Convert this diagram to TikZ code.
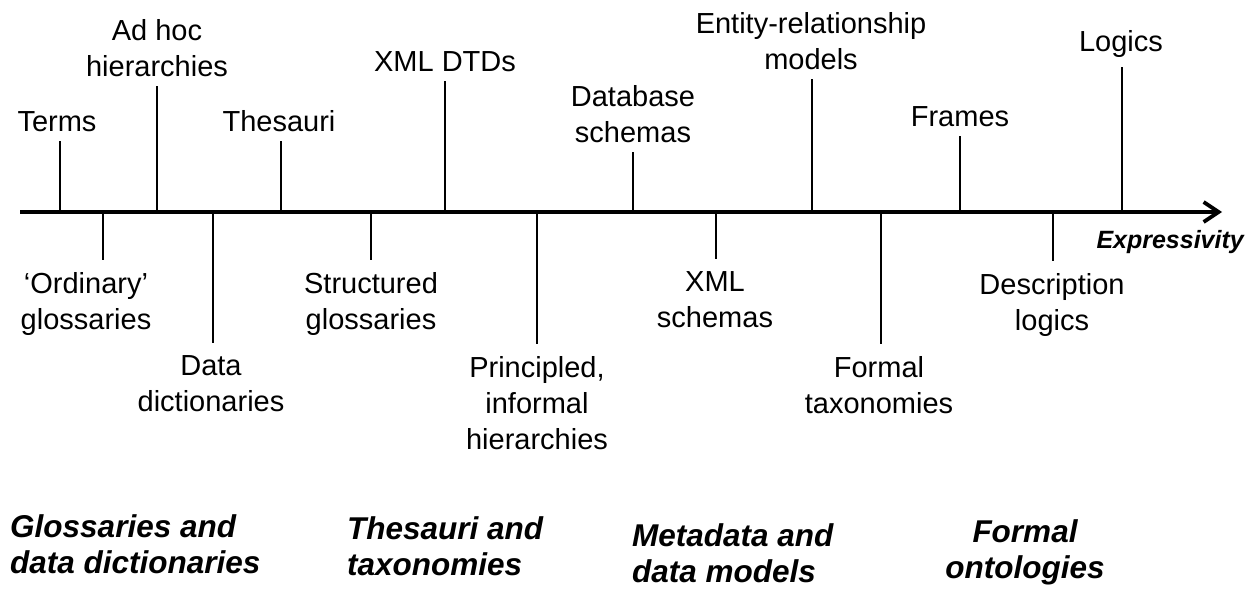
\documentclass[tikz,border=0pt]{standalone}
\usepackage{fontspec}
\setmainfont{Liberation Sans}
\usetikzlibrary{arrows.meta}
\begin{document}
\begin{tikzpicture}[x=1pt,y=-1pt,
  lbl/.style={font=\fontsize{29}{36}\selectfont, align=center, inner sep=0pt},
  up/.style={lbl, anchor=south},
  down/.style={lbl, anchor=north},
  group/.style={font=\fontsize{31.5}{36}\selectfont\bfseries\itshape, inner sep=0pt},
  ticku/.style={line width=1.3pt, shorten >=9pt},
  tickd/.style={line width=1.3pt, shorten >=12pt},
  axisline/.style={line width=4pt, -{Straight Barb[length=15pt,width=20pt,line width=3.8pt]}}
]
\useasboundingbox (0,0) rectangle (1255,589);

% expressivity axis
\coordinate (axL) at (20,212);
\coordinate (axR) at (1222,212);
\draw[axisline] (axL) -- (axR);
\node[font=\fontsize{25}{28}\selectfont\bfseries\itshape, inner sep=0pt, anchor=base east] (expr) at (1244,248) {Expressivity};

% labels above the axis
\node[up] (terms)    at (57,132)  {Terms};
\node[up] (adhoc)    at (157,77)  {Ad hoc\\hierarchies};
\node[up] (thes)     at (279,132) {Thesauri};
\node[up] (xmldtd)   at (445,72)  {XML DTDs};
\node[up] (dbs)      at (633,143) {Database\\schemas};
\node[up] (er)       at (811,70)  {Entity-relationship\\models};
\node[up] (frames)   at (960,127) {Frames};
\node[up] (logics)   at (1121,58) {Logics};

% labels below the axis
\node[down] (ordin)  at (86,272)  {‘Ordinary’\\glossaries};
\node[down] (ddict)  at (211,355) {Data\\dictionaries};
\node[down] (sgloss) at (371,272) {Structured\\glossaries};
\node[down] (princ)  at (537,356) {Principled,\\informal\\hierarchies};
\node[down] (xmls)   at (715,271) {XML\\schemas};
\node[down] (ftax)   at (879,356) {Formal\\taxonomies};
\node[down] (dlog)   at (1052,273) {Description\\logics};

% tick positions on the axis
\coordinate (a1) at (60,212);
\coordinate (a2) at (157,212);
\coordinate (a3) at (281,212);
\coordinate (a4) at (445,212);
\coordinate (a5) at (633,212);
\coordinate (a6) at (812,212);
\coordinate (a7) at (960,212);
\coordinate (a8) at (1122,212);
\coordinate (b1) at (103,212);
\coordinate (b2) at (213,212);
\coordinate (b3) at (371,212);
\coordinate (b4) at (537,212);
\coordinate (b5) at (716,212);
\coordinate (b6) at (881,212);
\coordinate (b7) at (1053,212);

\draw[ticku] (a1) -- (a1 |- terms.south);
\draw[ticku] (a2) -- (a2 |- adhoc.south);
\draw[ticku] (a3) -- (a3 |- thes.south);
\draw[ticku] (a4) -- (a4 |- xmldtd.south);
\draw[ticku] (a5) -- (a5 |- dbs.south);
\draw[ticku] (a6) -- (a6 |- er.south);
\draw[ticku] (a7) -- (a7 |- frames.south);
\draw[ticku] (a8) -- (a8 |- logics.south);

\draw[tickd] (b1) -- (b1 |- ordin.north);
\draw[tickd] (b2) -- (b2 |- ddict.north);
\draw[tickd] (b3) -- (b3 |- sgloss.north);
\draw[tickd] (b4) -- (b4 |- princ.north);
\draw[tickd] (b5) -- (b5 |- xmls.north);
\draw[tickd] (b6) -- (b6 |- ftax.north);
\draw[tickd] (b7) -- (b7 |- dlog.north);

% families of representations
\node[group, anchor=north west, align=left] (g1) at (10,514)  {Glossaries and\\data dictionaries};
\node[group, anchor=north west, align=left] (g2) at (347,516) {Thesauri and\\taxonomies};
\node[group, anchor=north west, align=left] (g3) at (632,523) {Metadata and\\data models};
\node[group, anchor=north, align=center]    (g4) at (1025,519) {Formal\\ontologies};
\end{tikzpicture}
\end{document}
